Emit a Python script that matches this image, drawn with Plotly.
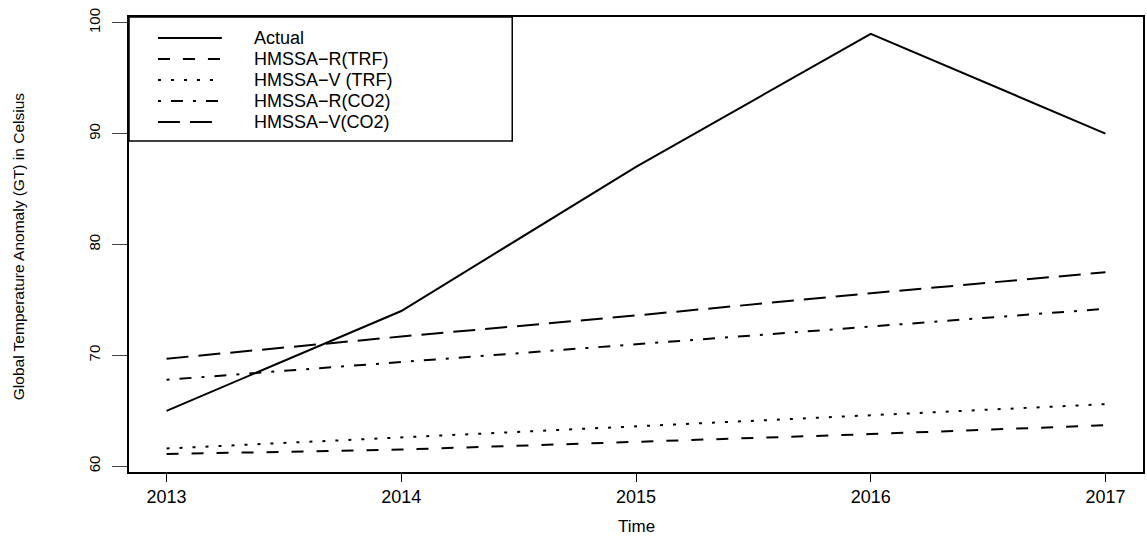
import plotly.graph_objects as go

# Yearly values (temperature anomaly, Celsius) for the observed series and four fits
years = [2013, 2014, 2015, 2016, 2017]
actual = [65.0, 74.0, 87.0, 99.0, 90.0]
hmssa_r_trf = [61.1, 61.5, 62.2, 62.9, 63.7]
hmssa_v_trf = [61.6, 62.6, 63.6, 64.6, 65.6]
hmssa_r_co2 = [67.8, 69.4, 71.0, 72.6, 74.2]
hmssa_v_co2 = [69.7, 71.7, 73.6, 75.6, 77.5]

series_names = ["Actual", "HMSSA\u2212R(TRF)", "HMSSA\u2212V (TRF)",
                "HMSSA\u2212R(CO2)", "HMSSA\u2212V(CO2)"]
y_ticks = [60, 70, 80, 90, 100]

series_values = [actual, hmssa_r_trf, hmssa_v_trf, hmssa_r_co2, hmssa_v_co2]
dashes = ["solid", "12px,13px", "3px,10px", "3px,10px,12px,10px", "22px,10px"]

FONT = "Liberation Sans, Arial, Helvetica, sans-serif"

# plot area in pixels (figure is 1147 x 537)
W, H = 1147, 537
L, R, T, B = 129, 2, 17, 65
pw, ph = W - L - R, H - T - B


def px_x(x):
    return (x - L) / pw


def px_y(y):
    return (H - B - y) / ph


fig = go.Figure()
for name, vals, dash in zip(series_names, series_values, dashes):
    fig.add_trace(go.Scatter(
        x=years, y=vals, mode="lines", name=name, showlegend=False,
        line=dict(color="black", width=2, dash=dash),
    ))

# legend drawn inside the top-left corner of the plot box
leg_left, leg_right, leg_top, leg_bottom = 129, 513, 17, 141
shapes = [dict(type="rect", xref="paper", yref="paper",
               x0=px_x(leg_left), x1=px_x(leg_right),
               y0=px_y(leg_bottom), y1=px_y(leg_top),
               line=dict(color="black", width=1.5), fillcolor="white", layer="above")]
annotations = []
row_y = [38, 59, 80, 101, 122]
for name, dash, ry in zip(series_names, dashes, row_y):
    shapes.append(dict(type="line", xref="paper", yref="paper",
                       x0=px_x(158), x1=px_x(222), y0=px_y(ry), y1=px_y(ry),
                       line=dict(color="black", width=2, dash=dash), layer="above"))
    annotations.append(dict(xref="paper", yref="paper", x=px_x(252), y=px_y(ry),
                            text=name, showarrow=False, xanchor="left", yanchor="middle",
                            font=dict(family=FONT, size=18, color="black")))

# axis titles
annotations.append(dict(xref="paper", yref="paper", x=px_x(638), y=px_y(526),
                        text="Time", showarrow=False, xanchor="center", yanchor="middle",
                        font=dict(family=FONT, size=17, color="black")))
annotations.append(dict(xref="paper", yref="paper", x=px_x(18), y=px_y(246),
                        text="Global Temperature Anomaly (GT) in Celsius", showarrow=False,
                        textangle=-90, xanchor="center", yanchor="middle",
                        font=dict(family=FONT, size=15.5, color="black")))

fig.update_layout(
    width=W, height=H,
    margin=dict(l=L, r=R, t=T, b=B, pad=0),
    paper_bgcolor="white", plot_bgcolor="white",
    shapes=shapes, annotations=annotations,
    font=dict(family=FONT, color="black"),
    xaxis=dict(range=[2012.84, 2017.16], tickvals=years, ticktext=[str(y) for y in years],
               showgrid=False, zeroline=False, showline=True, mirror=True,
               linecolor="black", linewidth=1.5, ticks="outside", ticklen=8,
               tickwidth=1.2, tickcolor="black", tickfont=dict(family=FONT, size=18)),
    yaxis=dict(range=[59.48, 100.52], tickvals=y_ticks, ticktext=[str(v) for v in y_ticks],
               showgrid=False, zeroline=False, showline=True, mirror=True,
               linecolor="black", linewidth=1.5, ticks="outside", ticklen=15,
               tickwidth=1.2, tickcolor="#444444", tickangle=-90, ticklabelstandoff=6,
               tickfont=dict(family=FONT, size=15)),
)

fig.write_html("out.html")
